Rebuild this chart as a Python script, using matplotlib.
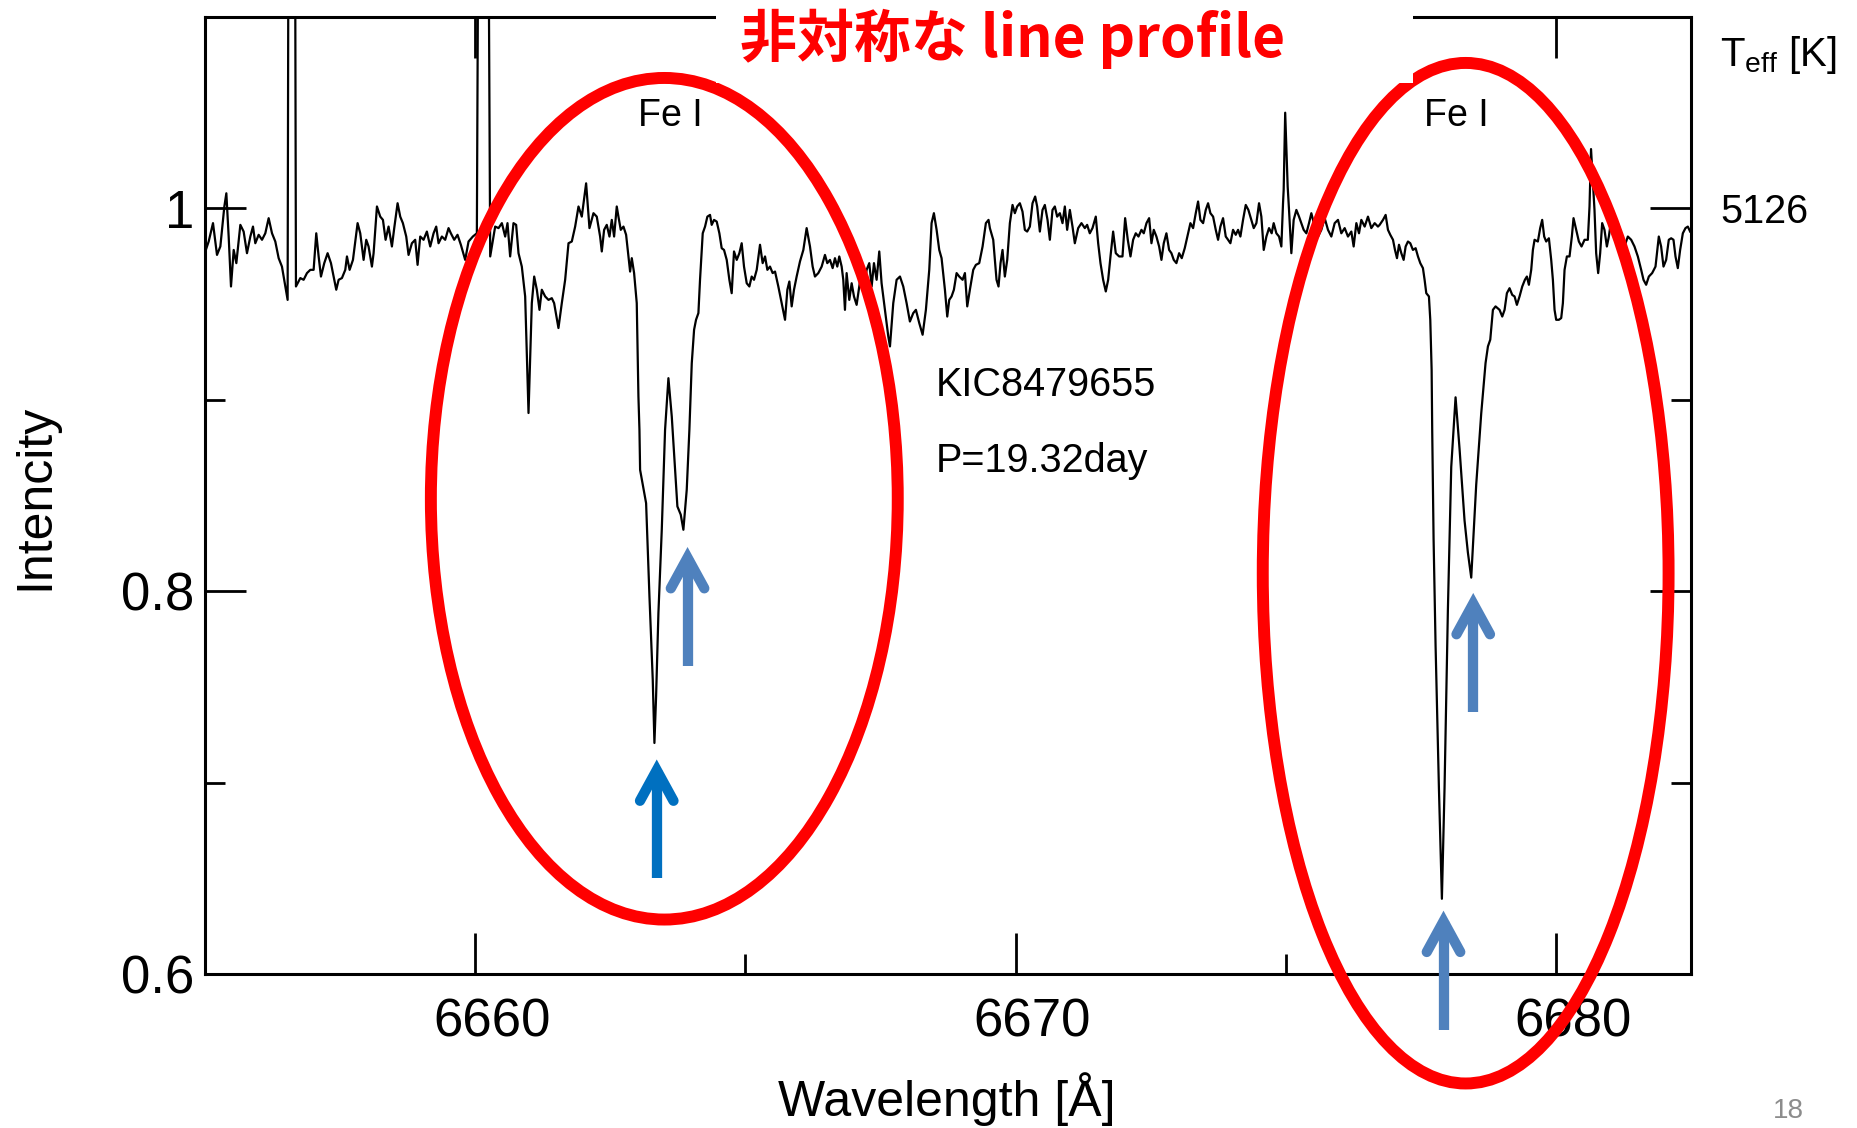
import matplotlib.pyplot as plt
from matplotlib.patches import Ellipse, Rectangle
from matplotlib.transforms import ScaledTranslation

plt.rcParams['font.family'] = ['Liberation Sans', 'DejaVu Sans']

# spectrum (wavelength in A, normalised intensity)
wavelength = [
    6655.006, 6655.068, 6655.148, 6655.222, 6655.284, 6655.358, 6655.395, 6655.438, 6655.481, 6655.531,
    6655.580, 6655.654, 6655.715, 6655.777, 6655.839, 6655.888, 6655.931, 6655.993, 6656.055, 6656.116,
    6656.178, 6656.240, 6656.301, 6656.363, 6656.424, 6656.486, 6656.529, 6656.555, 6656.655, 6656.683,
    6656.764, 6656.825, 6656.887, 6656.949, 6657.010, 6657.059, 6657.103, 6657.146, 6657.207, 6657.269,
    6657.331, 6657.380, 6657.429, 6657.473, 6657.534, 6657.596, 6657.627, 6657.676, 6657.738, 6657.781,
    6657.824, 6657.873, 6657.935, 6657.984, 6658.027, 6658.089, 6658.120, 6658.182, 6658.243, 6658.293,
    6658.342, 6658.397, 6658.459, 6658.502, 6658.564, 6658.613, 6658.662, 6658.724, 6658.767, 6658.829,
    6658.890, 6658.934, 6658.983, 6659.045, 6659.106, 6659.168, 6659.230, 6659.279, 6659.322, 6659.384,
    6659.445, 6659.507, 6659.550, 6659.612, 6659.673, 6659.735, 6659.815, 6659.877, 6659.957, 6660.031,
    6660.080, 6660.220, 6660.278, 6660.370, 6660.432, 6660.494, 6660.555, 6660.598, 6660.647, 6660.709,
    6660.758, 6660.802, 6660.863, 6660.925, 6660.987, 6661.048, 6661.092, 6661.141, 6661.190, 6661.233,
    6661.295, 6661.357, 6661.418, 6661.461, 6661.541, 6661.603, 6661.665, 6661.727, 6661.788, 6661.850,
    6661.912, 6661.973, 6662.053, 6662.115, 6662.189, 6662.250, 6662.312, 6662.343, 6662.386, 6662.435,
    6662.485, 6662.528, 6662.571, 6662.620, 6662.651, 6662.694, 6662.744, 6662.793, 6662.836, 6662.867,
    6662.898, 6662.941, 6662.990, 6663.021, 6663.040, 6663.052, 6663.101, 6663.163, 6663.225, 6663.286,
    6663.317, 6663.348, 6663.391, 6663.453, 6663.514, 6663.576, 6663.638, 6663.699, 6663.742, 6663.804,
    6663.853, 6663.915, 6663.964, 6664.008, 6664.051, 6664.087, 6664.131, 6664.161, 6664.211, 6664.254,
    6664.297, 6664.346, 6664.377, 6664.420, 6664.470, 6664.519, 6664.562, 6664.605, 6664.655, 6664.704,
    6664.747, 6664.790, 6664.840, 6664.889, 6664.932, 6664.975, 6665.025, 6665.074, 6665.117, 6665.160,
    6665.210, 6665.271, 6665.320, 6665.364, 6665.407, 6665.456, 6665.505, 6665.549, 6665.610, 6665.672,
    6665.734, 6665.777, 6665.814, 6665.857, 6665.900, 6665.949, 6666.011, 6666.073, 6666.134, 6666.196,
    6666.245, 6666.288, 6666.350, 6666.412, 6666.473, 6666.516, 6666.566, 6666.615, 6666.658, 6666.701,
    6666.738, 6666.782, 6666.812, 6666.843, 6666.874, 6666.923, 6666.967, 6667.010, 6667.059, 6667.108,
    6667.152, 6667.195, 6667.244, 6667.293, 6667.337, 6667.380, 6667.429, 6667.478, 6667.521, 6667.583,
    6667.645, 6667.676, 6667.737, 6667.799, 6667.861, 6667.922, 6667.984, 6668.045, 6668.107, 6668.156,
    6668.218, 6668.280, 6668.341, 6668.403, 6668.446, 6668.489, 6668.539, 6668.588, 6668.631, 6668.693,
    6668.736, 6668.773, 6668.816, 6668.859, 6668.909, 6668.958, 6669.020, 6669.063, 6669.106, 6669.155,
    6669.217, 6669.266, 6669.328, 6669.390, 6669.451, 6669.500, 6669.525, 6669.587, 6669.648, 6669.685,
    6669.722, 6669.759, 6669.802, 6669.846, 6669.895, 6669.944, 6669.987, 6670.030, 6670.080, 6670.129,
    6670.172, 6670.215, 6670.265, 6670.314, 6670.363, 6670.400, 6670.450, 6670.499, 6670.542, 6670.592,
    6670.635, 6670.684, 6670.727, 6670.770, 6670.820, 6670.869, 6670.912, 6670.955, 6671.005, 6671.054,
    6671.097, 6671.159, 6671.220, 6671.282, 6671.325, 6671.374, 6671.424, 6671.485, 6671.529, 6671.572,
    6671.621, 6671.670, 6671.714, 6671.757, 6671.806, 6671.855, 6671.917, 6671.979, 6672.028, 6672.077,
    6672.127, 6672.176, 6672.225, 6672.275, 6672.330, 6672.373, 6672.423, 6672.472, 6672.515, 6672.558,
    6672.607, 6672.657, 6672.700, 6672.743, 6672.792, 6672.842, 6672.885, 6672.928, 6672.977, 6673.027,
    6673.076, 6673.131, 6673.193, 6673.236, 6673.286, 6673.335, 6673.378, 6673.421, 6673.471, 6673.520,
    6673.563, 6673.606, 6673.656, 6673.705, 6673.748, 6673.791, 6673.840, 6673.890, 6673.933, 6673.976,
    6674.025, 6674.075, 6674.118, 6674.161, 6674.210, 6674.260, 6674.309, 6674.364, 6674.408, 6674.457,
    6674.506, 6674.549, 6674.593, 6674.642, 6674.691, 6674.740, 6674.777, 6674.827, 6674.876, 6674.919,
    6674.950, 6674.962, 6674.990, 6675.036, 6675.061, 6675.104, 6675.147, 6675.197, 6675.246, 6675.289,
    6675.332, 6675.382, 6675.431, 6675.474, 6675.536, 6675.598, 6675.659, 6675.721, 6675.782, 6675.844,
    6675.906, 6675.967, 6676.029, 6676.091, 6676.152, 6676.214, 6676.257, 6676.307, 6676.356, 6676.399,
    6676.461, 6676.522, 6676.584, 6676.646, 6676.707, 6676.738, 6676.800, 6676.849, 6676.892, 6676.935,
    6676.985, 6677.022, 6677.059, 6677.096, 6677.139, 6677.182, 6677.219, 6677.262, 6677.305, 6677.354,
    6677.404, 6677.447, 6677.490, 6677.539, 6677.570, 6677.601, 6677.650, 6677.675, 6677.700, 6677.711,
    6677.736, 6677.773, 6677.835, 6677.890, 6677.939, 6678.001, 6678.063, 6678.143, 6678.217, 6678.309,
    6678.371, 6678.433, 6678.525, 6678.618, 6678.698, 6678.742, 6678.785, 6678.834, 6678.883, 6678.957,
    6679.007, 6679.050, 6679.093, 6679.142, 6679.192, 6679.235, 6679.278, 6679.327, 6679.377, 6679.426,
    6679.463, 6679.500, 6679.543, 6679.574, 6679.605, 6679.666, 6679.709, 6679.746, 6679.783, 6679.820,
    6679.870, 6679.913, 6679.944, 6679.975, 6680.005, 6680.055, 6680.098, 6680.129, 6680.160, 6680.203,
    6680.252, 6680.295, 6680.326, 6680.375, 6680.425, 6680.474, 6680.530, 6680.591, 6680.622, 6680.650,
    6680.714, 6680.745, 6680.782, 6680.819, 6680.856, 6680.899, 6680.943, 6680.980, 6681.023, 6681.084,
    6681.146, 6681.208, 6681.269, 6681.331, 6681.393, 6681.454, 6681.516, 6681.578, 6681.621, 6681.670,
    6681.720, 6681.781, 6681.843, 6681.904, 6681.947, 6681.991, 6682.040, 6682.089, 6682.133, 6682.176,
    6682.213, 6682.256, 6682.299, 6682.349, 6682.398, 6682.441, 6682.484,
]
intensity = [
    0.9775, 0.9827, 0.9923, 0.9757, 0.9801, 1.0010, 1.0079, 0.9853, 0.9592, 0.9783,
    0.9714, 0.9914, 0.9879, 0.9766, 0.9853, 0.9905, 0.9818, 0.9862, 0.9836, 0.9870,
    0.9949, 0.9870, 0.9827, 0.9740, 0.9696, 0.9592, 0.9522, 1.3000, 1.3000, 0.9592,
    0.9636, 0.9627, 0.9662, 0.9679, 0.9679, 0.9870, 0.9749, 0.9644, 0.9714, 0.9766,
    0.9714, 0.9644, 0.9575, 0.9627, 0.9636, 0.9679, 0.9749, 0.9679, 0.9731, 0.9827,
    0.9923, 0.9870, 0.9731, 0.9836, 0.9801, 0.9696, 0.9766, 1.0010, 0.9957, 0.9940,
    0.9836, 0.9905, 0.9801, 0.9897, 1.0027, 0.9957, 0.9923, 0.9853, 0.9757, 0.9818,
    0.9836, 0.9705, 0.9853, 0.9836, 0.9879, 0.9801, 0.9870, 0.9905, 0.9818, 0.9853,
    0.9836, 0.9897, 0.9870, 0.9836, 0.9862, 0.9810, 0.9731, 0.9827, 0.9853, 0.9870,
    1.3000, 1.3000, 0.9749, 0.9905, 0.9897, 0.9923, 0.9853, 0.9923, 0.9749, 0.9923,
    0.9914, 0.9766, 0.9696, 0.9540, 0.8931, 0.9505, 0.9644, 0.9575, 0.9470, 0.9575,
    0.9540, 0.9522, 0.9531, 0.9505, 0.9375, 0.9505, 0.9627, 0.9818, 0.9827, 0.9905,
    1.0010, 0.9957, 1.0131, 0.9897, 0.9975, 0.9957, 0.9853, 0.9775, 0.9888, 0.9914,
    0.9853, 0.9940, 0.9853, 1.0010, 0.9957, 0.9888, 0.9905, 0.9862, 0.9749, 0.9670,
    0.9740, 0.9662, 0.9505, 0.9017, 0.8843, 0.8634, 0.8556, 0.8460, 0.7973, 0.7538,
    0.7207, 0.7451, 0.7886, 0.8321, 0.8843, 0.9113, 0.8913, 0.8634, 0.8443, 0.8400,
    0.8321, 0.8530, 0.8843, 0.9191, 0.9366, 0.9418, 0.9453, 0.9627, 0.9870, 0.9905,
    0.9957, 0.9966, 0.9914, 0.9940, 0.9931, 0.9870, 0.9792, 0.9783, 0.9731, 0.9627,
    0.9557, 0.9775, 0.9731, 0.9766, 0.9818, 0.9696, 0.9609, 0.9592, 0.9644, 0.9627,
    0.9679, 0.9810, 0.9714, 0.9749, 0.9679, 0.9696, 0.9662, 0.9670, 0.9592, 0.9505,
    0.9418, 0.9575, 0.9618, 0.9488, 0.9575, 0.9644, 0.9723, 0.9783, 0.9897, 0.9801,
    0.9696, 0.9644, 0.9662, 0.9696, 0.9757, 0.9714, 0.9731, 0.9688, 0.9740, 0.9696,
    0.9749, 0.9696, 0.9627, 0.9470, 0.9662, 0.9522, 0.9609, 0.9540, 0.9496, 0.9592,
    0.9679, 0.9575, 0.9679, 0.9714, 0.9592, 0.9714, 0.9627, 0.9775, 0.9609, 0.9470,
    0.9331, 0.9279, 0.9505, 0.9627, 0.9644, 0.9592, 0.9505, 0.9409, 0.9453, 0.9470,
    0.9401, 0.9340, 0.9470, 0.9679, 0.9923, 0.9975, 0.9888, 0.9783, 0.9740, 0.9575,
    0.9435, 0.9522, 0.9540, 0.9575, 0.9662, 0.9644, 0.9627, 0.9662, 0.9488, 0.9575,
    0.9679, 0.9705, 0.9714, 0.9801, 0.9923, 0.9940, 0.9897, 0.9836, 0.9627, 0.9592,
    0.9714, 0.9783, 0.9644, 0.9731, 0.9923, 1.0018, 0.9975, 1.0010, 1.0027, 0.9983,
    0.9888, 0.9879, 0.9905, 1.0027, 1.0062, 1.0010, 0.9879, 0.9992, 1.0018, 0.9940,
    0.9836, 0.9992, 1.0010, 0.9957, 0.9975, 0.9923, 1.0010, 0.9888, 0.9992, 0.9905,
    0.9818, 0.9897, 0.9923, 0.9897, 0.9914, 0.9870, 0.9897, 0.9957, 0.9818, 0.9714,
    0.9627, 0.9566, 0.9627, 0.9749, 0.9879, 0.9766, 0.9749, 0.9749, 0.9949, 0.9836,
    0.9749, 0.9836, 0.9870, 0.9853, 0.9888, 0.9870, 0.9923, 0.9949, 0.9818, 0.9888,
    0.9853, 0.9801, 0.9731, 0.9818, 0.9870, 0.9783, 0.9766, 0.9731, 0.9714, 0.9766,
    0.9740, 0.9792, 0.9870, 0.9923, 0.9897, 0.9975, 1.0036, 0.9940, 0.9923, 0.9992,
    1.0027, 0.9975, 0.9957, 0.9888, 0.9836, 0.9905, 0.9949, 0.9853, 0.9836, 0.9818,
    0.9888, 0.9862, 0.9888, 0.9853, 0.9940, 1.0018, 0.9992, 0.9940, 0.9897, 0.9923,
    1.0027, 0.9957, 0.9783, 0.9853, 0.9897, 0.9870, 0.9923, 0.9870, 0.9853, 0.9801,
    1.0027, 1.0097, 1.0500, 1.0114, 0.9992, 0.9766, 0.9940, 0.9992, 0.9957, 0.9923,
    0.9888, 0.9870, 0.9923, 0.9975, 0.9905, 0.9853, 0.9888, 0.9949, 0.9888, 0.9853,
    0.9923, 0.9940, 0.9870, 0.9897, 0.9853, 0.9879, 0.9801, 0.9923, 0.9870, 0.9940,
    0.9905, 0.9957, 0.9897, 0.9923, 0.9905, 0.9914, 0.9940, 0.9966, 0.9888, 0.9862,
    0.9836, 0.9783, 0.9740, 0.9810, 0.9766, 0.9731, 0.9801, 0.9827, 0.9818, 0.9783,
    0.9792, 0.9749, 0.9714, 0.9688, 0.9627, 0.9557, 0.9540, 0.9418, 0.9157, 0.8836,
    0.8276, 0.7717, 0.6971, 0.6393, 0.6971, 0.7903, 0.8649, 0.9013, 0.8743, 0.8370,
    0.8202, 0.8071, 0.8556, 0.8929, 0.9192, 0.9279, 0.9314, 0.9470, 0.9488, 0.9470,
    0.9435, 0.9470, 0.9557, 0.9583, 0.9548, 0.9540, 0.9496, 0.9540, 0.9592, 0.9627,
    0.9644, 0.9601, 0.9679, 0.9783, 0.9836, 0.9827, 0.9897, 0.9940, 0.9853, 0.9827,
    0.9844, 0.9731, 0.9627, 0.9470, 0.9418, 0.9418, 0.9427, 0.9505, 0.9679, 0.9749,
    0.9749, 0.9853, 0.9949, 0.9888, 0.9827, 0.9801, 0.9836, 0.9836, 1.0010, 1.0310,
    0.9992, 0.9766, 0.9662, 0.9766, 0.9923, 0.9888, 0.9801, 0.9853, 0.9940, 0.9870,
    0.9923, 0.9870, 0.9801, 0.9853, 0.9836, 0.9801, 0.9749, 0.9679, 0.9627, 0.9601,
    0.9644, 0.9662, 0.9696, 0.9853, 0.9801, 0.9696, 0.9731, 0.9836, 0.9844, 0.9836,
    0.9749, 0.9688, 0.9783, 0.9870, 0.9897, 0.9905, 0.9879,
]

x_major = [6660, 6670, 6680]
x_minor = [6665, 6675]
y_major = [0.6, 0.8, 1.0]
y_major_labels = ['0.6', '0.8', '1']
y_minor = [0.7, 0.9]

star_name = 'KIC8479655'
period_text = 'P=19.32day'
teff_value = '5126'
line_label = 'Fe I'
title_text = '非対称な line profile'

# arrows: (x, tip y, colour)
arrows = [
    (6663.36, 0.712, '#0070C0'),
    (6663.93, 0.823, '#4F81BD'),
    (6677.92, 0.633, '#4F81BD'),
    (6678.47, 0.799, '#4F81BD'),
]

W, H = 1857, 1128
fig = plt.figure(figsize=(W / 100, H / 100), dpi=100)
ax = fig.add_axes([205 / W, 1 - 974 / H, 1486 / W, 957 / H])

ax.plot(wavelength, intensity, color='black', lw=1.6, zorder=3)
ax.set_xlim(6655.0, 6682.5)
ax.set_ylim(0.6, 1.1)

ax.set_xticks(x_major)
ax.set_xticks(x_minor, minor=True)
ax.set_yticks(y_major, y_major_labels)
ax.set_yticks(y_minor, minor=True)
ax.tick_params(which='both', direction='in', top=True, right=True, width=2.0, labelsize=38)
ax.tick_params(which='major', length=29.5)
ax.tick_params(which='minor', length=14.5)
ax.tick_params(axis='x', pad=17)
ax.tick_params(axis='y', pad=8)
for s in ax.spines.values():
    s.set_linewidth(2.2)
# the x numbers sit a little right of their ticks in the original
shift = ScaledTranslation(0.17, 0, fig.dpi_scale_trans)
for lab in ax.get_xticklabels():
    lab.set_transform(lab.get_transform() + shift)

fig.text(35 / W, 1 - 497 / H, 'Intencity', rotation=90, ha='center', va='center', fontsize=36)
fig.text(947 / W, 1 - 1099 / H, 'Wavelength [Å]', ha='center', va='center', fontsize=36)

ax.text(6663.62, 1.0485, line_label, ha='center', va='center', fontsize=27)
ax.text(6678.15, 1.0485, line_label, ha='center', va='center', fontsize=27)
ax.text(6668.52, 0.9078, star_name, ha='left', va='center', fontsize=28.5)
ax.text(6668.52, 0.8678, period_text, ha='left', va='center', fontsize=28.5)
ax.text(1.0195, 0.998, teff_value, transform=ax.get_yaxis_transform(), ha='left', va='center', fontsize=28.5)
ax.text(1.0195, 1.080, r'T$_\mathregular{eff}$ [K]', transform=ax.get_yaxis_transform(),
        ha='left', va='center', fontsize=29)

# red ellipses round the two Fe I lines
ax.add_patch(Ellipse((6663.50, 0.8483), 8.64, 0.4397, fill=False, edgecolor='#ff0000', lw=8.6,
                     zorder=5, clip_on=False))
ax.add_patch(Ellipse((6678.33, 0.8094), 7.51, 0.5332, fill=False, edgecolor='#ff0000', lw=8.6,
                     zorder=5, clip_on=False))

for ax_x, tip, col in arrows:
    apex = tip - 0.0055
    ax.plot([ax_x, ax_x], [tip - 0.062, apex], color=col, lw=7.4, solid_capstyle='butt',
            zorder=6, clip_on=False)
    ax.plot([ax_x - 0.31, ax_x, ax_x + 0.31], [apex - 0.016, apex, apex - 0.016], color=col, lw=7.4,
            solid_capstyle='round', solid_joinstyle='miter', zorder=6, clip_on=False)

# white box behind the title
fig.patches.append(Rectangle((716 / W, 1 - 83 / H), 697 / W, 83 / H, transform=fig.transFigure,
                             facecolor='white', edgecolor='none', zorder=2))
fig.text(1013 / W, 1 - 39 / H, title_text, ha='center', va='center', fontsize=41, fontweight='bold',
         color='#ff0000', family=['Noto Sans CJK JP', 'DejaVu Sans'], zorder=3)

fig.text(1788 / W, 1 - 1098 / H, '18', ha='center', va='top', fontsize=20, color='#8c8c8c')

fig.savefig('out.png', dpi=100)
